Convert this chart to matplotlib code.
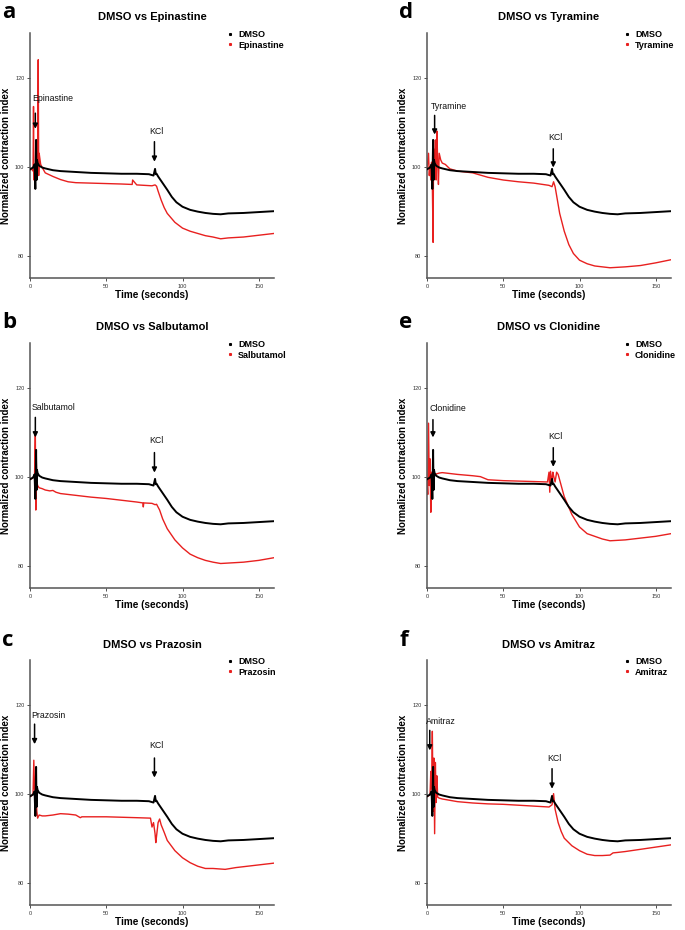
import numpy as np
import matplotlib
matplotlib.use("Agg")
import matplotlib.pyplot as plt
from matplotlib.lines import Line2D

plt.rcParams['font.family'] = ['Liberation Sans', 'DejaVu Sans']

# shared DMSO control trace
t_dmso = [0, 1, 2, 3, 3.5, 4, 4.3, 4.6, 5, 6, 8, 10, 15, 20, 30, 40, 50, 60, 70, 78, 81, 82, 82.5, 83, 84, 86, 88,
          90, 93, 96, 100, 105, 110, 115, 120, 125, 130, 140, 150, 160]
y_dmso = [99.4, 99.6, 99.8, 100.5, 95, 106, 97, 101.5, 100.8, 100.2, 99.8, 99.6, 99.2, 99.0, 98.8, 98.6, 98.5, 98.4,
          98.4, 98.3, 98.0, 99.5, 98.3, 98.4, 97.8, 96.8, 95.8, 94.8, 93.2, 92.0, 91.0, 90.3, 89.9, 89.6, 89.4, 89.3,
          89.5, 89.6, 89.8, 90.0]

# drug traces
t_epi = [0, 1, 2, 2.3, 2.6, 3, 3.5, 4, 4.5, 5, 5.4, 5.7, 6, 7, 8, 10, 15, 20, 25, 30, 40, 50, 60, 67, 67.3, 70, 80,
         82, 83, 84, 86, 88, 90, 95, 100, 105, 110, 115, 120, 125, 130, 140, 150, 160]
y_epi = [99.2, 99.5, 99.0, 113.5, 97, 100, 99, 101, 99.5, 101, 124, 98, 103, 100.5, 99.8, 98.6, 97.8, 97.1, 96.6,
         96.4, 96.3, 96.2, 96.1, 96.0, 97.0, 95.9, 95.7, 95.9, 95.6, 94.5, 92.5, 90.8, 89.5, 87.5, 86.2, 85.5, 85.0,
         84.5, 84.2, 83.8, 84.0, 84.2, 84.6, 85.0]

t_sal = [0, 1, 2, 3, 3.5, 3.8, 4.1, 4.4, 5, 6, 8, 10, 13, 15, 17, 20, 30, 40, 50, 60, 70, 74, 74.3, 74.6, 80, 82,
         83, 85, 87, 90, 95, 100, 105, 110, 115, 120, 125, 130, 140, 150, 160]
y_sal = [99.4, 99.5, 99.8, 100.5, 110, 92.5, 104, 99, 98, 97.5, 97.3, 97.0, 96.8, 96.9, 96.5, 96.2, 95.8, 95.4,
         95.1, 94.7, 94.3, 94.1, 93.2, 94.1, 94.0, 93.7, 93.8, 92.5, 90.5, 88.3, 85.8, 84.0, 82.6, 81.8, 81.2, 80.8,
         80.5, 80.6, 80.8, 81.2, 81.8]

t_pra = [0, 1, 2, 2.5, 3, 3.3, 3.6, 4, 4.5, 5, 6, 8, 10, 15, 20, 25, 30, 33, 34, 40, 50, 60, 70, 79, 80, 81, 82,
         82.5, 83, 84, 85, 86, 88, 90, 95, 100, 105, 110, 115, 120, 128, 135, 140, 150, 160]
y_pra = [99.3, 99.5, 100, 107.5, 101, 103, 95, 99, 96, 94.5, 95.2, 95.0, 95.0, 95.2, 95.5, 95.4, 95.2, 94.6, 94.8,
         94.8, 94.8, 94.7, 94.6, 94.5, 92.5, 93.5, 91, 89.0, 90.5, 93.5, 94.3, 93, 91.3, 89.5, 87.2, 85.6, 84.5,
         83.7, 83.2, 83.2, 83.0, 83.4, 83.6, 84.0, 84.4]

t_tyr = [0, 1, 1.5, 2, 2.5, 3, 3.5, 4, 4.3, 5, 5.5, 6, 6.5, 7, 7.5, 8, 9, 10, 12, 15, 20, 30, 40, 50, 60, 70, 80, 82,
         83, 84, 85, 87, 90, 93, 96, 100, 105, 110, 120, 130, 140, 150, 160]
y_tyr = [99.5, 103, 98, 100, 97, 101, 96, 83, 104, 99, 106, 97, 108, 101, 96, 103, 101.5, 100.8, 100.5, 99.5, 99.0,
         98.6, 97.6, 97.0, 96.6, 96.3, 95.8, 95.5, 96.6, 95.5, 93.5, 89.5, 85.5, 82.5, 80.5, 79.0, 78.2, 77.7, 77.3,
         77.5, 77.8, 78.4, 79.1]

t_clo = [0, 0.5, 1, 1.5, 2, 2.5, 3, 3.5, 4, 4.5, 5, 6, 8, 10, 20, 30, 35, 40, 50, 60, 70, 79, 80, 80.5, 81, 82, 82.5,
         83, 84, 85, 86, 88, 90, 95, 100, 105, 110, 115, 120, 130, 140, 150, 160]
y_clo = [99.3, 96, 112, 98, 104, 92, 101, 99, 97, 101, 100.2, 100.6, 100.8, 100.9, 100.5, 100.2, 100.0, 99.3, 99.1,
         99.0, 98.9, 98.8, 101, 96.5, 101.2, 98.5, 101, 100.2, 98.8, 101.0, 100.5, 98.0, 95.5, 91.5, 88.7, 87.2, 86.6,
         86.0, 85.6, 85.8, 86.2, 86.6, 87.2]

t_ami = [0, 1, 2, 2.5, 3, 3.5, 4, 4.5, 5, 5.5, 6, 6.5, 7, 8, 10, 15, 20, 30, 40, 50, 60, 70, 80, 82, 83, 84, 85, 86,
         88, 90, 95, 100, 105, 110, 115, 120, 122, 125, 130, 140, 150, 160]
y_ami = [99.3, 99.5, 99.8, 105, 101, 114, 96, 108, 91, 107, 98, 104, 99.2, 99.0, 98.8, 98.5, 98.2, 97.9, 97.7, 97.6,
         97.4, 97.2, 97.0, 97.5, 100, 96.5, 95, 93.5, 91.5, 90.0, 88.3, 87.2, 86.4, 86.1, 86.1, 86.2, 86.7, 86.8,
         87.0, 87.5, 88.0, 88.5]

letters = ['a', 'b', 'c', 'd', 'e', 'f']
drugs = ['Epinastine', 'Salbutamol', 'Prazosin', 'Tyramine', 'Clonidine', 'Amitraz']
t_red = [t_epi, t_sal, t_pra, t_tyr, t_clo, t_ami]
y_red = [y_epi, y_sal, y_pra, y_tyr, y_clo, y_ami]
# drug arrow: x, text y, arrow start, arrow end ; KCl arrow: x, text y, start, end
drug_arrow = [(3.5, 115.3, 112.0, 108.5), (3.5, 115.5, 113.3, 108.8), (3.0, 117.6, 115.6, 111.1),
              (5.0, 113.5, 111.5, 107.2), (3.9, 115.3, 112.8, 108.8), (1.8, 116.2, 114.2, 109.7)]
kcl_arrow = [(81.6, 107.9, 105.6, 101.1), (81.6, 108.1, 105.4, 100.9), (81.6, 110.7, 108.0, 103.6),
             (82.8, 106.5, 104.0, 99.8), (82.8, 109.0, 106.5, 102.2), (82.0, 107.9, 105.6, 101.1)]

W, H = 685, 930
fig = plt.figure(figsize=(W / 100, H / 100), dpi=100)

col_left = [30, 427]
row_top = [33, 343, 660]
aw, ah = 244, 245

red = '#e8201f'
arrow_kw = dict(arrowstyle='-|>', color='black', lw=1.1, mutation_scale=7, shrinkA=0, shrinkB=0)
for i in range(6):
    col, row = i // 3, i % 3
    x0, y0 = col_left[col], row_top[row]
    ax = fig.add_axes([x0 / W, 1 - (y0 + ah) / H, aw / W, ah / H])
    ax.plot(t_dmso, y_dmso, color='black', lw=1.4, zorder=3)
    ax.plot(t_red[i], y_red[i], color=red, lw=1.0, zorder=2)
    ax.set_xlim(0, 160)
    ax.set_ylim(75, 130)
    ax.set_xticks([0, 50, 100, 150])
    ax.set_yticks([80, 100, 120])
    for s in ['top', 'right']:
        ax.spines[s].set_visible(False)
    for s in ['left', 'bottom']:
        ax.spines[s].set_color('#555555')
        ax.spines[s].set_linewidth(1.1)
    ax.tick_params(labelsize=4, colors='#333333', length=2, width=0.6, pad=2)
    ax.set_title('DMSO vs ' + drugs[i], fontsize=8, fontweight='bold', pad=9)
    ax.set_ylabel('Normalized contraction index', fontsize=7, fontweight='bold', labelpad=3)
    ax.set_xlabel('Time (seconds)', fontsize=7.2, fontweight='bold', labelpad=1)

    dx, dt, ds, de = drug_arrow[i]
    ax.annotate('', xy=(dx, de), xytext=(dx, ds), arrowprops=arrow_kw)
    ax.text(dx - 2.2, dt, drugs[i], fontsize=6.3, ha='left', va='center', color='#111111')
    kx, kt, ks, ke = kcl_arrow[i]
    ax.annotate('', xy=(kx, ke), xytext=(kx, ks), arrowprops=arrow_kw)
    ax.text(kx + 1.5, kt, 'KCl', fontsize=6.3, ha='center', va='center', color='#111111')

    handles = [Line2D([], [], ls='none', marker='s', ms=1.2, color='black'),
               Line2D([], [], ls='none', marker='s', ms=1.2, color=red)]
    ax.legend(handles, ['DMSO', drugs[i]], loc='upper left', bbox_to_anchor=(0.79, 1.03), frameon=False,
              prop={'size': 6.5, 'weight': 'bold'}, handlelength=0.6, handletextpad=0.6, labelspacing=0.15,
              borderpad=0)

    fig.text((x0 - 28) / W, 1 - (y0 - 20) / H, letters[i], fontsize=16, fontweight='bold',
             family=['Open Sans', 'DejaVu Sans'], ha='left', va='center')

fig.savefig('out.png', dpi=100)
